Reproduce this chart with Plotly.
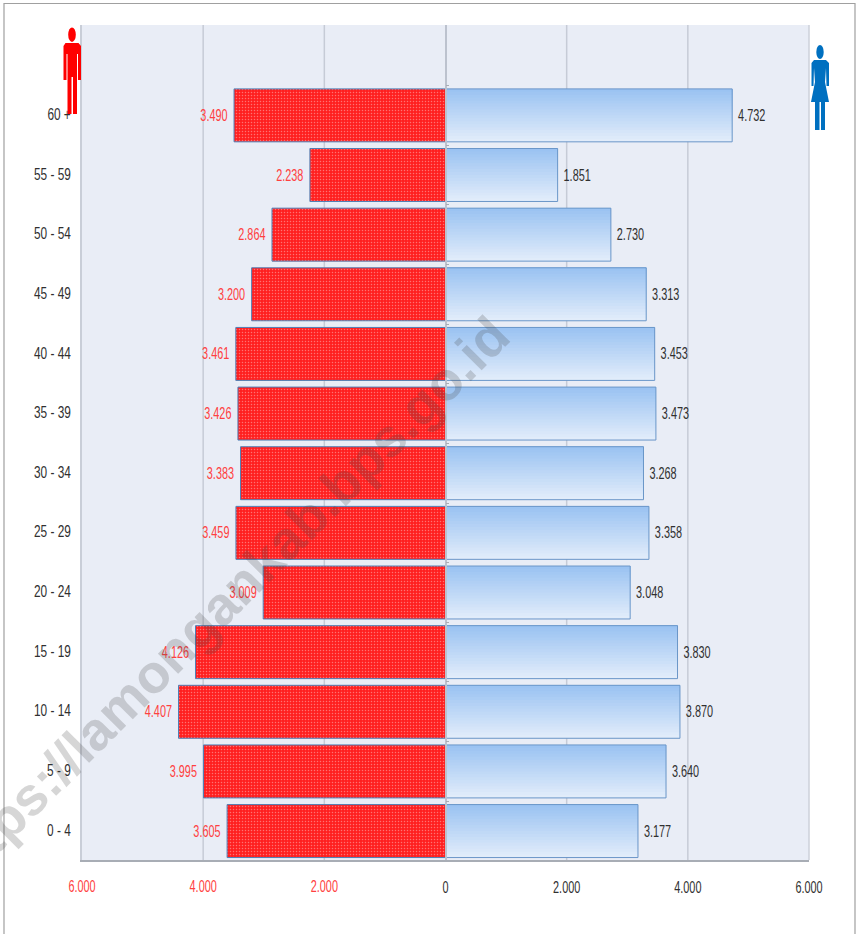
import plotly.graph_objects as go

ages = ["0 - 4", "5 - 9", "10 - 14", "15 - 19", "20 - 24", "25 - 29", "30 - 34",
        "35 - 39", "40 - 44", "45 - 49", "50 - 54", "55 - 59", "60 +"]
male = [3605, 3995, 4407, 4126, 3009, 3459, 3383, 3426, 3461, 3200, 2864, 2238, 3490]
female = [3177, 3640, 3870, 3830, 3048, 3358, 3268, 3473, 3453, 3313, 2730, 1851, 4732]
x_ticks_left = [-6000, -4000, -2000]
x_labels_left = ["6.000", "4.000", "2.000"]
x_ticks_right = [0, 2000, 4000, 6000]
x_labels_right = ["0", "2.000", "4.000", "6.000"]

W, H = 856, 934
L, R, T, B = 82, 809, 25, 860.5
FONT = "Liberation Sans, sans-serif"
FS = 16
positions = list(range(len(ages)))
Y_RANGE = [-0.485, 13.515]


def fmt(v):
    return f"{v:,}".replace(",", ".")


def paper_x(x):
    return (x - L) / (R - L)


def paper_y(y):
    return (B - y) / (B - T)


def path(points):
    return "M" + " L".join(f"{paper_x(x):.5f},{paper_y(y):.5f}" for x, y in points) + " Z"


fig = go.Figure()

BAR_H = 0.888
STEPS = 18
c0, c1 = (225, 236, 250), (155, 195, 242)
neg_male = [-v for v in male]

fig.add_trace(go.Bar(
    y=positions, x=neg_male, orientation="h", width=BAR_H,
    marker=dict(color="#ff2020", line=dict(color="#4f7fb5", width=1),
                pattern=dict(shape=".", size=3, solidity=0.2, fgcolor="#ffc4c4", bgcolor="#ff2020")),
    text=[fmt(v) for v in male], textposition="outside", cliponaxis=False,
    textfont=dict(family=FONT, size=FS, color="#ff4040"), hoverinfo="skip", showlegend=False))

for i in range(STEPS):
    t = i / (STEPS - 1)
    col = tuple(round(a + (b - a) * t) for a, b in zip(c0, c1))
    fig.add_trace(go.Bar(
        y=positions, x=female, orientation="h",
        width=BAR_H * (1 - i / STEPS), offset=-BAR_H / 2 + BAR_H * i / STEPS,
        marker=dict(color=f"rgb{col}", line=dict(width=0)),
        hoverinfo="skip", showlegend=False))

fig.add_trace(go.Bar(
    y=positions, x=female, orientation="h", width=BAR_H,
    marker=dict(color="rgba(0,0,0,0)", line=dict(color="#6a96c8", width=1)),
    text=[fmt(v) for v in female], textposition="outside", cliponaxis=False,
    textfont=dict(family=FONT, size=FS, color="#303030"), hoverinfo="skip", showlegend=False))

# carrier for the red tick labels on the second x axis and centre ticks on the second y axis
fig.add_trace(go.Scatter(x=[-6000], y=[0], xaxis="x2", mode="markers", marker=dict(opacity=0),
                         hoverinfo="skip", showlegend=False))
fig.add_trace(go.Scatter(x=[0], y=[0], yaxis="y2", mode="markers", marker=dict(opacity=0),
                         hoverinfo="skip", showlegend=False))

RED = "#ff0000"
BLUE = "#0070c0"
shapes = [
    dict(type="rect", xref="paper", yref="paper", x0=paper_x(4), x1=paper_x(855),
         y0=paper_y(3.5), y1=paper_y(960), line=dict(color="#a0a0a0", width=1.2),
         fillcolor="rgba(0,0,0,0)", layer="below"),
    # man
    dict(type="circle", xref="paper", yref="paper", x0=paper_x(68.2), x1=paper_x(75.8),
         y0=paper_y(27.5), y1=paper_y(42), fillcolor=RED, line=dict(width=0)),
    dict(type="path", xref="paper", yref="paper", fillcolor=RED, line=dict(width=0),
         path=path([(65.5, 43), (78.5, 43), (81, 46), (81, 80), (78, 80), (78, 54), (77, 54), (77, 114),
                    (73, 114), (73, 77), (71.5, 77), (71.5, 114), (67.5, 114), (67.5, 54), (66.5, 54),
                    (66.5, 80), (63.5, 80), (63.5, 46)])),
    # woman
    dict(type="circle", xref="paper", yref="paper", x0=paper_x(816.3), x1=paper_x(823.7),
         y0=paper_y(45), y1=paper_y(59), fillcolor=BLUE, line=dict(width=0)),
    dict(type="path", xref="paper", yref="paper", fillcolor=BLUE, line=dict(width=0),
         path=path([(814, 60), (826, 60), (829, 63), (829, 86), (826.5, 86), (826, 68), (825, 82), (829, 102),
                    (825, 102), (825, 130), (821, 130), (821, 102), (819.5, 102), (819.5, 130), (815, 130),
                    (815, 102), (811, 102), (815, 82), (814, 68), (813.5, 86), (811.5, 86), (811.5, 63)])),
]

annotations = [dict(
    text="https://lamongankab.bps.go.id", xref="paper", yref="paper",
    x=paper_x(222), y=paper_y(603), xanchor="center", yanchor="middle", showarrow=False,
    textangle=-45,
    font=dict(family="Liberation Sans, sans-serif", size=54, weight=700, color="rgba(70,70,70,0.22)"))]

fig.update_layout(
    width=W, height=H, margin=dict(l=L, r=W - R, t=T, b=H - B, autoexpand=False),
    paper_bgcolor="white", plot_bgcolor="#e9edf6", barmode="overlay", showlegend=False,
    font=dict(family=FONT, size=FS, color="#303030"), shapes=shapes, annotations=annotations,
    xaxis=dict(range=[-6000, 6000], tickmode="array", tickvals=x_ticks_right, ticktext=x_labels_right,
               showgrid=False, zeroline=False, showline=True, linecolor="#a8adb5", linewidth=1.5,
               ticks="outside", ticklen=12, tickcolor="rgba(0,0,0,0)",
               tickfont=dict(family=FONT, size=FS, color="#303030")),
    xaxis2=dict(range=[-6000, 6000], overlaying="x", anchor="y", side="bottom", tickmode="array",
                tickvals=x_ticks_left, ticktext=x_labels_left, showgrid=False, zeroline=False,
                ticks="outside", ticklen=12, tickcolor="rgba(0,0,0,0)",
                tickfont=dict(family=FONT, size=FS, color="#ff4040")),
    yaxis=dict(range=Y_RANGE, tickmode="array", tickvals=positions, ticktext=ages,
               showgrid=False, zeroline=False, showline=True, linecolor="#c9ced8", linewidth=2,
               ticks="outside", ticklen=6, tickcolor="rgba(0,0,0,0)",
               tickfont=dict(family=FONT, size=FS, color="#303030")),
    yaxis2=dict(range=Y_RANGE, overlaying="y", anchor="free", position=0.5, side="right",
                tickmode="array", tickvals=[p + 0.5 for p in positions], showticklabels=False,
                ticks="outside", ticklen=3, tickcolor="#a8adb5", showgrid=False, zeroline=False,
                showline=True, linecolor="#bcc2ce", linewidth=1.5),
)
for v in (-4000, -2000, 2000, 4000):
    fig.add_shape(type="line", xref="x", yref="paper", x0=v, x1=v, y0=0, y1=1,
                  line=dict(color="#c6cbd6", width=1.5), layer="below")
fig.add_shape(type="line", xref="paper", yref="paper", x0=1, x1=1, y0=0, y1=1,
              line=dict(color="#cdd1da", width=1.5), layer="below")

# The reference uses a condensed face; none is installed, so the glyphs are narrowed in place.
squeeze = """
document.body.style.margin = '0';
function squeezeOne(t, k) {
  if (t.hasAttribute('textLength')) { return false; }
  t.setAttribute('textLength', t.getComputedTextLength() * k);
  t.setAttribute('lengthAdjust', 'spacingAndGlyphs');
  return true;
}
function squeezeText() {
  document.querySelectorAll('.xtick text, .x2tick text').forEach(function (t) { squeezeOne(t, 0.68); });
  document.querySelectorAll('.ytick text').forEach(function (t) {
    if (squeezeOne(t, 0.74)) { t.setAttribute('dy', -1); }
  });
  document.querySelectorAll('.bartext').forEach(function (t) {
    var isLeft = t.getBoundingClientRect().left < 445;
    if (squeezeOne(t, 0.68)) { t.setAttribute('dx', isLeft ? 3 : -3.5); }
  });
}
squeezeText();
var gd = document.querySelector('.plotly-graph-div');
if (gd && gd.on) { gd.on('plotly_afterplot', squeezeText); }
"""
fig.write_html("out.html", post_script=squeeze, config={"displayModeBar": False})
